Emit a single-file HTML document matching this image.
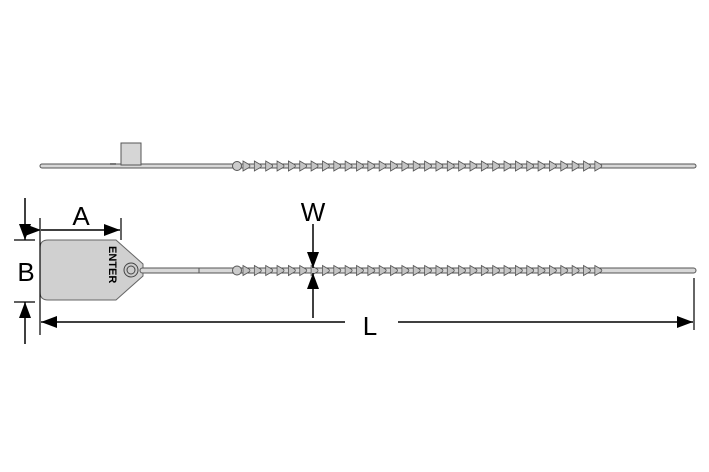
<!DOCTYPE html>
<html><head><style>body{margin:0;background:#fff}svg{display:block}</style></head>
<body>
<svg id="s" width="709" height="472" xmlns="http://www.w3.org/2000/svg" font-family="Liberation Sans, sans-serif">
<defs>
<marker id="ar" viewBox="0 0 16 12" refX="16" refY="6" markerWidth="16" markerHeight="12" markerUnits="userSpaceOnUse" orient="auto"><path d="M0,0 L16,6 L0,12 z" fill="#000"/></marker>
</defs>
<rect x="40" y="164" width="656" height="4" rx="2" fill="#d8d8d8" stroke="#555" stroke-width="1"/>
<rect x="121" y="143" width="20" height="22" fill="#d6d6d6" stroke="#555"/>
<rect x="110" y="163" width="6" height="2" fill="#777"/>
<path d="M48,240 H116 L143,264 V276 L116,300 H48 Q40,300 40,292 V248 Q40,240 48,240 Z" fill="#d0d0d0" stroke="#666"/>
<rect x="140" y="268" width="556" height="5" rx="2.5" fill="#d8d8d8" stroke="#555"/>
<line x1="199" y1="268" x2="199" y2="273" stroke="#555"/>
<circle cx="131" cy="270" r="7" fill="#ccc" stroke="#444"/>
<circle cx="131" cy="270" r="4" fill="none" stroke="#444"/>
<text x="0" y="0" font-size="11" font-weight="bold" transform="translate(109,246) rotate(90)">ENTER</text>
<g id="b1"></g><g id="b2"></g>
<g stroke="#000" stroke-width="1.2" fill="none">
<line x1="40" y1="218" x2="40" y2="335"/>
<line x1="121" y1="218" x2="121" y2="240"/>
<line x1="41" y1="230" x2="120" y2="230" marker-start="url(#ar)" marker-end="url(#ar)" stroke-width="1.5"/>
<line x1="14" y1="240" x2="35" y2="240"/>
<line x1="14" y1="302" x2="35" y2="302"/>
<line x1="25" y1="198" x2="25" y2="240" marker-end="url(#ar)" stroke-width="1.5"/>
<line x1="25" y1="344" x2="25" y2="302" marker-end="url(#ar)" stroke-width="1.5"/>
<line x1="313" y1="224" x2="313" y2="268" marker-end="url(#ar)" stroke-width="1.5"/>
<line x1="313" y1="318" x2="313" y2="273" marker-end="url(#ar)" stroke-width="1.5"/>
<line x1="694" y1="278" x2="694" y2="330"/>
<line x1="345" y1="322" x2="41" y2="322" marker-end="url(#ar)" stroke-width="1.5"/>
<line x1="398" y1="322" x2="693" y2="322" marker-end="url(#ar)" stroke-width="1.5"/>
</g>
<g font-size="26" fill="#000" text-anchor="middle">
<text x="81" y="225">A</text>
<text x="26" y="281">B</text>
<text x="313" y="221">W</text>
<text x="370" y="335">L</text>
</g>
</svg>
<script>
function beads(id,y){var g=document.getElementById(id),h='<circle cx="237" cy="'+y+'" r="4.5" fill="#ccc" stroke="#555"/>';
for(var x=243;x<=606;x+=11.35){h+='<path d="M'+x+','+(y-5)+' L'+(x+6)+','+(y-1.5)+' Q'+(x+8)+','+y+' '+(x+6)+','+(y+1.5)+' L'+x+','+(y+5)+' Z" fill="#c4c4c4" stroke="#555" stroke-width="0.8"/>';}
g.innerHTML=h;}
beads('b1',166);beads('b2',270.5);
</script>
</body></html>
